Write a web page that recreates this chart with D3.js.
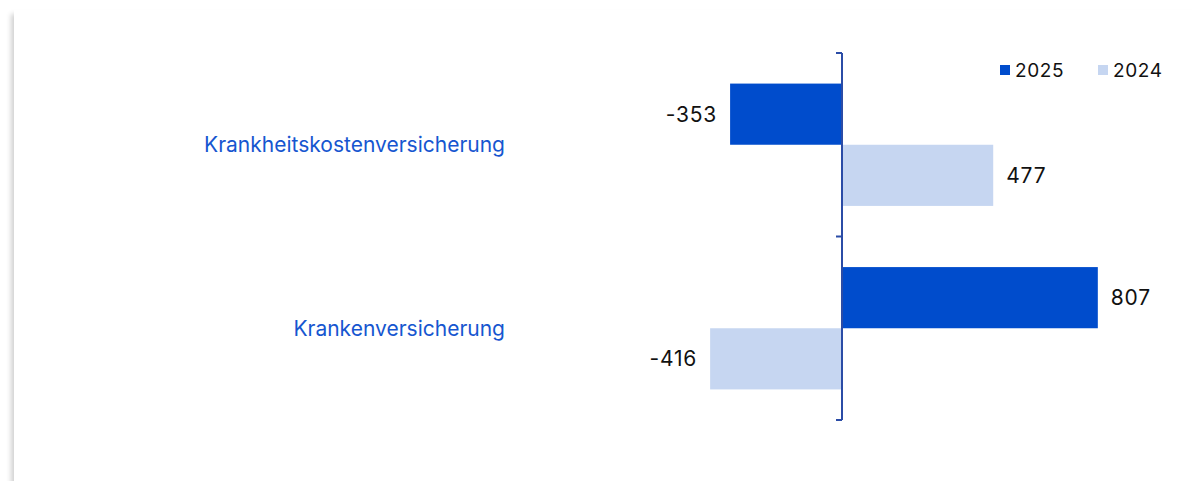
<!DOCTYPE html>
<html>
<head>
<meta charset="utf-8">
<script src="https://cdn.jsdelivr.net/npm/d3@7"></script>
<style>
  html, body { margin: 0; padding: 0; background: #fff; }
  body { width: 1192px; height: 481px; overflow: hidden; position: relative; }
  .card {
    position: absolute; left: 14px; top: 10px; width: 1200px; height: 490px;
    background: #fff; box-shadow: -3px 4px 5px rgba(0,0,0,0.18);
  }
  svg { position: absolute; left: 0; top: 0; font-family: Inter, "Noto Sans", sans-serif; }
</style>
</head>
<body>
<div class="card"></div>
<div id="chart"></div>
<script>
const categories = ["Krankheitskostenversicherung", "Krankenversicherung"];
const seriesNames = ["2025", "2024"];
const values2025 = [-353, 807];
const values2024 = [477, -416];

const colors = { "2025": "#004ccc", "2024": "#c6d6f1" };

const width = 1192, height = 481;
const margin = { top: 53, bottom: 61 };

const rows = [];
categories.forEach((c, i) => {
    rows.push({ cat: c, series: "2025", value: values2025[i] });
    rows.push({ cat: c, series: "2024", value: values2024[i] });
});

const svg = d3.select("#chart").append("svg")
    .attr("width", width)
    .attr("height", height);

const x = d3.scaleLinear()
    .domain([-1000, 1000])
    .range([842 - 317, 842 + 317]);

const y0 = d3.scaleBand()
    .domain(categories)
    .range([margin.top, height - margin.bottom])
    .paddingInner(0)
    .paddingOuter(0);

const y1 = d3.scaleBand()
    .domain(seriesNames)
    .range([0, y0.bandwidth()])
    .paddingInner(0)
    .paddingOuter(0.5);

svg.selectAll(".bar")
    .data(rows)
    .enter()
    .append("rect")
    .attr("class", "bar")
    .attr("x", d => x(Math.min(0, d.value)))
    .attr("y", d => y0(d.cat) + y1(d.series))
    .attr("width", d => Math.abs(x(d.value) - x(0)))
    .attr("height", y1.bandwidth())
    .attr("fill", d => colors[d.series]);

svg.selectAll(".val")
    .data(rows)
    .enter()
    .append("text")
    .attr("class", "val")
    .attr("x", d => d.value < 0 ? x(d.value) - 13 : x(d.value) + 13)
    .attr("y", d => y0(d.cat) + y1(d.series) + y1.bandwidth() / 2)
    .attr("dy", "0.36em")
    .attr("text-anchor", d => d.value < 0 ? "end" : "start")
    .style("font-size", "21px")
    .style("letter-spacing", "0.8px")
    .style("fill", "#111")
    .text(d => d.value);

// axis at zero with ticks at band boundaries
const axisG = svg.append("g")
    .attr("transform", `translate(${x(0)},0)`);
const boundaries = [margin.top, ...categories.map(c => y0(c) + y0.bandwidth())];
axisG.append("line")
    .attr("y1", boundaries[0]).attr("y2", boundaries[boundaries.length - 1])
    .attr("stroke", "#2b4ca6").attr("stroke-width", 2);
axisG.selectAll(".tick")
    .data(boundaries)
    .enter()
    .append("line")
    .attr("x1", -6).attr("x2", 0)
    .attr("y1", d => d).attr("y2", d => d)
    .attr("stroke", "#2b4ca6").attr("stroke-width", 2);

svg.selectAll(".cat")
    .data(categories)
    .enter()
    .append("text")
    .attr("class", "cat")
    .attr("x", 505)
    .attr("y", d => y0(d) + y0.bandwidth() / 2)
    .attr("dy", "0.36em")
    .attr("text-anchor", "end")
    .style("font-size", "21px")
    .style("fill", "#1656d0")
    .text(d => d);

// legend
const legendX = [1000, 1098];
const legend = svg.selectAll(".legend")
    .data(seriesNames)
    .enter()
    .append("g")
    .attr("class", "legend")
    .attr("transform", (d, i) => `translate(${legendX[i]},65)`);
legend.append("rect")
    .attr("width", 10).attr("height", 10)
    .attr("fill", d => colors[d]);
legend.append("text")
    .attr("x", 15).attr("y", 5)
    .attr("dy", "0.36em")
    .style("font-size", "19px")
    .style("letter-spacing", "0.6px")
    .style("fill", "#111")
    .text(d => d);
</script>
</body>
</html>
